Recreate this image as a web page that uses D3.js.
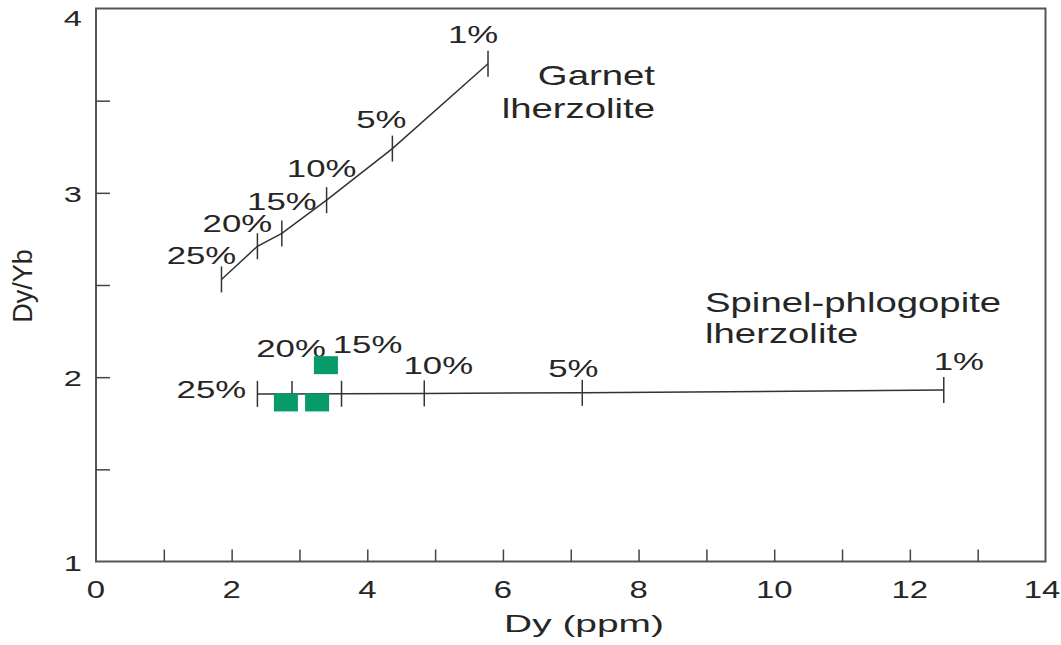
<!doctype html>
<html>
<head>
  <meta charset="utf-8" />
  <script src="https://cdn.jsdelivr.net/npm/d3@7"></script>
  <style>
  body{
    margin: 0;
    background: #ffffff;
  }
  text{
    font-family: "Liberation Sans", Arial, Helvetica, sans-serif;
    fill: #262626;
  }
  </style>
</head>
<body>
  <div id="chart"></div>

  <script>
  // melting curves: label, Dy (ppm), Dy/Yb
  var garnetLabels = ['1%', '5%', '10%', '15%', '20%', '25%'];
  var garnetDy     = [5.78, 4.37, 3.40, 2.74, 2.38, 1.85];
  var garnetRatio  = [3.70, 3.24, 2.96, 2.78, 2.71, 2.53];

  var spinelLabels = ['1%', '5%', '10%', '15%', '20%', '25%'];
  var spinelDy     = [12.50, 7.17, 4.84, 3.62, 2.89, 2.38];
  var spinelRatio  = [1.93, 1.915, 1.912, 1.91, 1.909, 1.909];

  // samples (green squares)
  var sampleDy    = [3.39, 2.80, 3.26];
  var sampleRatio = [2.065, 1.863, 1.863];

  var xTickLabels = [0, 2, 4, 6, 8, 10, 12, 14];
  var yTickLabels = [1, 2, 3, 4];

  // label nudges in pixels, same order as the labels
  var garnetNudge = [[-15, -21], [-11, -21], [-5, -23], [0, -23], [-20, -14], [-20, -15]];
  var spinelNudge = [[15, -20], [-9, -16], [14, -19], [26, -41], [-1, -37], [-46, 4]];

  var width = 1061, height = 645;
  var margin = {top: 8.5, right: 15.5, bottom: 83.5, left: 96};
  var stretch = 1.42; // the source figure is squashed wide

  var svg = d3.select('#chart').append('svg')
    .attr('width', width)
    .attr('height', height);

  var x = d3.scaleLinear().domain([0, 14]).range([margin.left, width - margin.right]);
  var y = d3.scaleLinear().domain([1, 4]).range([height - margin.bottom, margin.top]);

  function wideText(g, px, py, str, size, sx, anchor){
    return g.append('text')
      .attr('transform', 'translate(' + px + ',' + py + ') scale(' + sx + ',1)')
      .attr('text-anchor', anchor || 'middle')
      .attr('font-size', size)
      .text(str);
  }

  // frame
  svg.append('rect')
    .attr('x', x(0)).attr('y', y(4))
    .attr('width', x(14) - x(0)).attr('height', y(1) - y(4))
    .attr('fill', 'none').attr('stroke', '#555').attr('stroke-width', 2);

  // ticks (inside)
  var xAxis = d3.axisTop(x).tickValues(d3.range(1, 14)).tickSize(12).tickFormat('');
  svg.append('g')
    .attr('transform', 'translate(0,' + y(1) + ')')
    .call(xAxis)
    .call(function(g){ g.select('.domain').remove(); })
    .selectAll('line').attr('stroke', '#444').attr('stroke-width', 1.5);

  var yAxis = d3.axisRight(y).tickValues([1.5, 2, 2.5, 3, 3.5]).tickSize(14).tickFormat('');
  svg.append('g')
    .attr('transform', 'translate(' + x(0) + ',0)')
    .call(yAxis)
    .call(function(g){ g.select('.domain').remove(); })
    .selectAll('line').attr('stroke', '#444').attr('stroke-width', 1.5);

  // tick labels
  var labels = svg.append('g');
  xTickLabels.forEach(function(v){
    // keep the last label inside the window, as in the source
    var px = Math.min(x(v), width - 19);
    wideText(labels, px, y(1) + 36, v, 23.5, 1.4);
  });
  yTickLabels.forEach(function(v){
    var py = Math.max(y(v) + 9, 26);
    wideText(labels, x(0) - 14, py, v, 22.5, 1.45, 'end');
  });

  // axis titles
  wideText(svg, 584, 632, 'Dy (ppm)', 24, 1.62);
  svg.append('text')
    .attr('transform', 'translate(32,286) rotate(-90)')
    .attr('text-anchor', 'middle')
    .attr('font-size', 27)
    .text('Dy/Yb');

  // melting curves
  var line = d3.line()
    .x(function(d){ return x(d[0]); })
    .y(function(d){ return y(d[1]); });

  function drawCurve(dys, ratios, names, nudge){
    var pts = d3.zip(dys, ratios);
    var g = svg.append('g');
    g.append('path')
      .datum(pts)
      .attr('d', line)
      .attr('fill', 'none')
      .attr('stroke', '#333')
      .attr('stroke-width', 1.5);
    g.selectAll('line.mark')
      .data(pts)
      .enter().append('line')
      .attr('class', 'mark')
      .attr('x1', function(d){ return x(d[0]); })
      .attr('x2', function(d){ return x(d[0]); })
      .attr('y1', function(d){ return y(d[1]) - 13; })
      .attr('y2', function(d){ return y(d[1]) + 13; })
      .attr('stroke', '#333')
      .attr('stroke-width', 1.5);
    pts.forEach(function(d, i){
      wideText(g, x(d[0]) + nudge[i][0], y(d[1]) + nudge[i][1], names[i], 24.5, stretch);
    });
  }

  drawCurve(garnetDy, garnetRatio, garnetLabels, garnetNudge);
  drawCurve(spinelDy, spinelRatio, spinelLabels, spinelNudge);

  // samples
  svg.append('g')
    .selectAll('rect')
    .data(d3.zip(sampleDy, sampleRatio))
    .enter().append('rect')
    .attr('x', function(d){ return x(d[0]) - 12; })
    .attr('y', function(d){ return y(d[1]) - 9; })
    .attr('width', 24)
    .attr('height', 18)
    .attr('fill', '#079b6c');

  // field names
  wideText(svg, 655, 85, 'Garnet', 27, stretch, 'end');
  wideText(svg, 655, 118, 'lherzolite', 27, stretch, 'end');
  wideText(svg, 705, 312, 'Spinel-phlogopite', 27, stretch, 'start');
  wideText(svg, 705, 343, 'lherzolite', 27, stretch, 'start');
  </script>
</body>
</html>
